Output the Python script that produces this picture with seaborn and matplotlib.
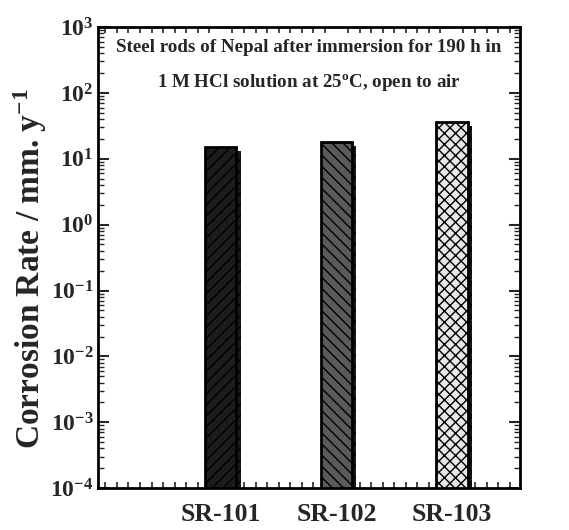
import pandas as pd
import seaborn as sns
import matplotlib
matplotlib.use('Agg')
import matplotlib.pyplot as plt
import matplotlib.patheffects as pe
from matplotlib.ticker import LogLocator, LogFormatterMathtext, MultipleLocator, NullFormatter

# Corrosion rates
samples = ['SR-101', 'SR-102', 'SR-103']
rates = [15.0, 18.0, 36.0]
face_colors = ['#1c1c1c', '#5a5a5a', '#e8e8e8']
hatches = ['///', '\\\\\\', 'xxx']

df = pd.DataFrame({'sample': samples, 'rate': rates})

sns.set_theme(style='white')
plt.rcParams['font.family'] = ['Liberation Serif', 'DejaVu Serif']
plt.rcParams['font.weight'] = 'bold'
plt.rcParams['mathtext.fontset'] = 'custom'
plt.rcParams['mathtext.rm'] = 'Liberation Serif:bold'
plt.rcParams['mathtext.bf'] = 'Liberation Serif:bold'
plt.rcParams['mathtext.default'] = 'bf'
plt.rcParams['hatch.linewidth'] = 1.0

fig = plt.figure(figsize=(5.69, 5.30), dpi=100)
ax = fig.add_axes([0.172, 0.079, 0.742, 0.870])

sns.barplot(data=df, x='sample', y='rate', ax=ax, width=0.27,
            palette=face_colors, hue='sample', legend=False,
            edgecolor='black', linewidth=2, saturation=1)

for bar, h in zip(ax.patches, hatches):
    bar.set_hatch(h)
    bar.set_path_effects([pe.SimplePatchShadow(offset=(3, -3), shadow_rgbFace='black', alpha=0.9),
                          pe.Normal()])

ax.set_yscale('log')
ax.set_ylim(1e-4, 1e3)
ax.set_xlim(-1.065, 2.59)

ax.yaxis.set_major_locator(LogLocator(base=10, numticks=20))
ax.yaxis.set_major_formatter(LogFormatterMathtext())
ax.yaxis.set_minor_locator(LogLocator(base=10, subs=range(2, 10), numticks=20))
ax.yaxis.set_minor_formatter(NullFormatter())
ax.xaxis.set_minor_locator(MultipleLocator(0.1))
ax.xaxis.set_minor_formatter(NullFormatter())

ax.tick_params(axis='y', which='major', direction='in', length=8, width=1.5,
               left=True, right=True, labelsize=17, pad=3)
ax.tick_params(axis='y', which='minor', direction='in', length=4, width=1,
               left=True, right=True)
ax.tick_params(axis='x', which='major', length=0, labelsize=18.5, pad=11)
ax.tick_params(axis='x', which='minor', direction='in', length=4, width=1.2,
               bottom=True, top=True)
for lab in ax.get_xticklabels():
    lab.set_fontweight('bold')

for side in ax.spines.values():
    side.set_linewidth(2)
    side.set_color('black')

ax.set_xlabel('')
ax.xaxis.label.set_visible(False)
ax.set_ylabel('Corrosion Rate / mm. y$^{-1}$', fontsize=24, fontweight='bold')
ax.yaxis.set_label_coords(-0.115, 0.477)

ax.text(0.5, 0.955, 'Steel rods of Nepal after immersion for 190 h in',
        transform=ax.transAxes, ha='center', va='center', fontsize=13.7, fontweight='bold')
ax.text(0.5, 0.880, '1 M HCl solution at 25$^{\\rm o}$C, open to air',
        transform=ax.transAxes, ha='center', va='center', fontsize=13.7, fontweight='bold')

fig.savefig('out.png', dpi=100)
